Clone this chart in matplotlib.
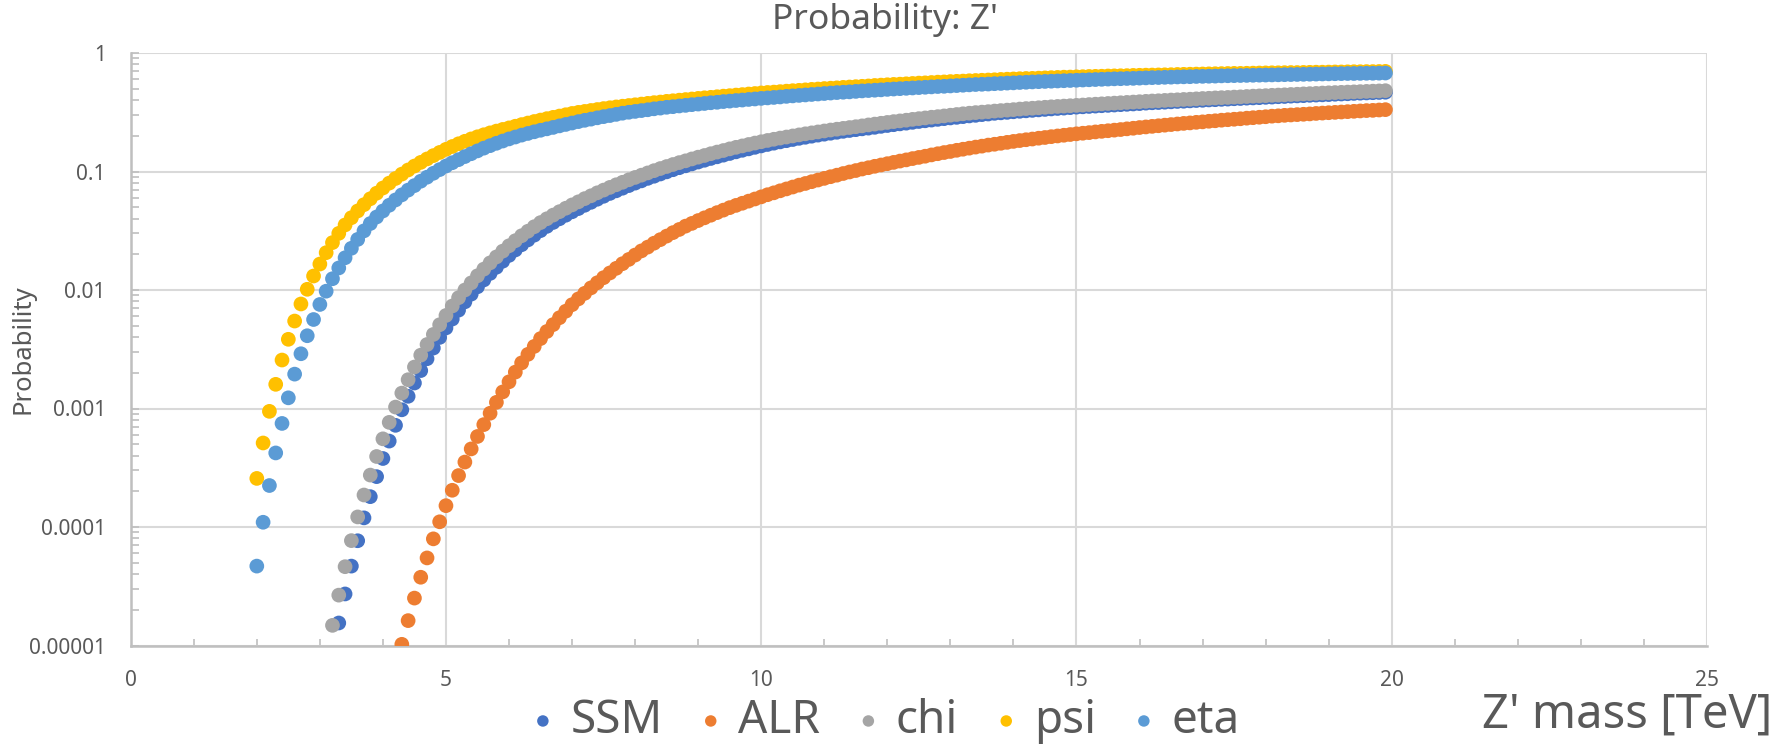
import numpy as np
import matplotlib.pyplot as plt
from matplotlib.ticker import FixedLocator, FixedFormatter, NullFormatter

# Mass grid: every series is sampled in 0.1 TeV steps up to 19.9 TeV
STEP = 0.1

# log10(probability) per Z' model, first entry at the given start mass
ssm_start = 3.3
ssm_log10 = [
    -4.810, -4.565, -4.330, -4.116, -3.923, -3.744, -3.575,
    -3.422, -3.275, -3.142, -3.011, -2.897, -2.785, -2.680, -2.580, -2.490, -2.400,
    -2.320, -2.245, -2.170, -2.100, -2.035, -1.973, -1.915, -1.860, -1.808, -1.757,
    -1.708, -1.662, -1.618, -1.577, -1.537, -1.499, -1.463, -1.430, -1.399, -1.369,
    -1.340, -1.313, -1.285, -1.260, -1.234, -1.209, -1.185, -1.163, -1.141, -1.119,
    -1.098, -1.079, -1.058, -1.040, -1.021, -1.003, -0.985, -0.968, -0.952, -0.936,
    -0.920, -0.905, -0.890, -0.876, -0.862, -0.848, -0.834, -0.821, -0.809, -0.796,
    -0.784, -0.772, -0.761, -0.750, -0.740, -0.730, -0.720, -0.711, -0.702, -0.693,
    -0.685, -0.677, -0.669, -0.661, -0.654, -0.647, -0.640, -0.634, -0.627, -0.619,
    -0.612, -0.605, -0.598, -0.592, -0.585, -0.578, -0.572, -0.566, -0.560, -0.554,
    -0.548, -0.543, -0.537, -0.531, -0.526, -0.520, -0.515, -0.509, -0.505, -0.501,
    -0.496, -0.492, -0.488, -0.484, -0.480, -0.476, -0.472, -0.468, -0.465, -0.461,
    -0.457, -0.454, -0.451, -0.448, -0.445, -0.442, -0.439, -0.436, -0.433, -0.430,
    -0.427, -0.423, -0.420, -0.418, -0.415, -0.412, -0.409, -0.407, -0.404, -0.401,
    -0.399, -0.396, -0.394, -0.391, -0.389, -0.386, -0.384, -0.381, -0.379, -0.377,
    -0.374, -0.372, -0.369, -0.367, -0.364, -0.362, -0.360, -0.357, -0.355, -0.353,
    -0.351, -0.348, -0.346, -0.344, -0.341, -0.339, -0.337, -0.335, -0.333, -0.331,
]

alr_start = 4.3
alr_log10 = [
    -4.990, -4.790, -4.600, -4.424, -4.261, -4.100, -3.956,
    -3.820, -3.690, -3.566, -3.452, -3.341, -3.236, -3.136, -3.040, -2.948, -2.860,
    -2.775, -2.693, -2.615, -2.543, -2.476, -2.410, -2.350, -2.292, -2.234, -2.179,
    -2.124, -2.075, -2.028, -1.982, -1.939, -1.896, -1.856, -1.817, -1.778, -1.742,
    -1.705, -1.670, -1.638, -1.605, -1.575, -1.545, -1.516, -1.489, -1.461, -1.438,
    -1.414, -1.391, -1.369, -1.347, -1.326, -1.305, -1.286, -1.268, -1.250, -1.232,
    -1.214, -1.196, -1.180, -1.163, -1.147, -1.131, -1.115, -1.101, -1.086, -1.072,
    -1.058, -1.044, -1.031, -1.017, -1.004, -0.992, -0.979, -0.968, -0.956, -0.945,
    -0.934, -0.923, -0.912, -0.902, -0.891, -0.881, -0.871, -0.860, -0.850, -0.840,
    -0.831, -0.821, -0.812, -0.803, -0.794, -0.786, -0.777, -0.770, -0.762, -0.754,
    -0.746, -0.739, -0.732, -0.726, -0.719, -0.713, -0.706, -0.700, -0.694, -0.688,
    -0.682, -0.677, -0.672, -0.666, -0.661, -0.656, -0.651, -0.646, -0.640, -0.635,
    -0.629, -0.624, -0.619, -0.614, -0.609, -0.604, -0.599, -0.594, -0.590, -0.585,
    -0.581, -0.576, -0.572, -0.567, -0.563, -0.559, -0.555, -0.550, -0.546, -0.542,
    -0.538, -0.533, -0.530, -0.526, -0.523, -0.520, -0.517, -0.514, -0.510, -0.507,
    -0.504, -0.501, -0.498, -0.495, -0.492, -0.489, -0.486, -0.484, -0.481, -0.478,
]

chi_start = 3.2
chi_log10 = [
    -4.830, -4.575, -4.335, -4.115, -3.915, -3.730, -3.562, -3.405,
    -3.256, -3.117, -2.988, -2.870, -2.757, -2.650, -2.550, -2.460, -2.375, -2.293,
    -2.215, -2.135, -2.065, -2.000, -1.940, -1.880, -1.824, -1.771, -1.721, -1.672,
    -1.627, -1.584, -1.542, -1.504, -1.466, -1.431, -1.399, -1.368, -1.339, -1.310,
    -1.282, -1.256, -1.229, -1.205, -1.180, -1.157, -1.134, -1.112, -1.091, -1.070,
    -1.050, -1.031, -1.012, -0.993, -0.975, -0.958, -0.941, -0.925, -0.910, -0.894,
    -0.879, -0.865, -0.850, -0.836, -0.823, -0.809, -0.796, -0.784, -0.772, -0.760,
    -0.749, -0.738, -0.728, -0.718, -0.709, -0.700, -0.691, -0.682, -0.674, -0.666,
    -0.658, -0.650, -0.643, -0.636, -0.629, -0.622, -0.615, -0.607, -0.600, -0.593,
    -0.586, -0.579, -0.573, -0.567, -0.560, -0.554, -0.548, -0.542, -0.537, -0.531,
    -0.525, -0.519, -0.513, -0.508, -0.503, -0.499, -0.495, -0.490, -0.486, -0.482,
    -0.478, -0.473, -0.469, -0.466, -0.462, -0.458, -0.454, -0.451, -0.448, -0.445,
    -0.442, -0.439, -0.435, -0.432, -0.429, -0.426, -0.423, -0.420, -0.417, -0.414,
    -0.411, -0.408, -0.405, -0.403, -0.400, -0.397, -0.395, -0.392, -0.390, -0.387,
    -0.384, -0.382, -0.379, -0.377, -0.375, -0.372, -0.370, -0.367, -0.364, -0.362,
    -0.360, -0.357, -0.355, -0.353, -0.350, -0.348, -0.345, -0.343, -0.341, -0.338,
    -0.336, -0.334, -0.332, -0.330, -0.328, -0.326, -0.324, -0.322, -0.320, -0.318,
]

psi_start = 2.0
psi_log10 = [
    -3.590, -3.291, -3.024, -2.796, -2.591, -2.416, -2.262, -2.118, -1.994, -1.882,
    -1.781, -1.685, -1.600, -1.522, -1.451, -1.390, -1.333, -1.280, -1.230, -1.183,
    -1.139, -1.098, -1.059, -1.022, -0.987, -0.954, -0.923, -0.894, -0.866, -0.839,
    -0.813, -0.789, -0.766, -0.745, -0.725, -0.707, -0.690, -0.674, -0.659, -0.645,
    -0.632, -0.618, -0.604, -0.591, -0.578, -0.566, -0.554, -0.543, -0.532, -0.521,
    -0.510, -0.501, -0.493, -0.485, -0.477, -0.469, -0.462, -0.455, -0.449, -0.443,
    -0.437, -0.431, -0.425, -0.419, -0.414, -0.408, -0.403, -0.398, -0.393, -0.388,
    -0.383, -0.378, -0.374, -0.369, -0.364, -0.360, -0.355, -0.351, -0.346, -0.342,
    -0.337, -0.333, -0.330, -0.326, -0.322, -0.318, -0.315, -0.311, -0.307, -0.304,
    -0.300, -0.297, -0.294, -0.290, -0.287, -0.284, -0.281, -0.278, -0.274, -0.271,
    -0.268, -0.265, -0.263, -0.260, -0.257, -0.254, -0.252, -0.249, -0.246, -0.244,
    -0.241, -0.239, -0.237, -0.234, -0.232, -0.230, -0.228, -0.226, -0.223, -0.221,
    -0.219, -0.217, -0.215, -0.214, -0.212, -0.210, -0.208, -0.206, -0.204, -0.203,
    -0.201, -0.200, -0.198, -0.197, -0.196, -0.194, -0.193, -0.192, -0.191, -0.189,
    -0.188, -0.187, -0.186, -0.185, -0.184, -0.183, -0.181, -0.180, -0.179, -0.178,
    -0.177, -0.176, -0.175, -0.174, -0.173, -0.172, -0.172, -0.171, -0.170, -0.169,
    -0.168, -0.167, -0.167, -0.166, -0.165, -0.165, -0.164, -0.163, -0.162, -0.162,
    -0.161, -0.160, -0.160, -0.159, -0.158, -0.158, -0.157, -0.157, -0.156, -0.155,
]

eta_start = 2.0
eta_log10 = [
    -4.330, -3.960, -3.650, -3.375, -3.126, -2.910, -2.710, -2.538, -2.386, -2.249,
    -2.122, -2.010, -1.905, -1.814, -1.728, -1.648, -1.573, -1.501, -1.439, -1.384,
    -1.333, -1.285, -1.240, -1.197, -1.157, -1.119, -1.082, -1.048, -1.015, -0.984,
    -0.954, -0.926, -0.900, -0.874, -0.850, -0.826, -0.803, -0.782, -0.762, -0.743,
    -0.725, -0.709, -0.693, -0.679, -0.665, -0.652, -0.640, -0.628, -0.615, -0.603,
    -0.591, -0.579, -0.568, -0.558, -0.547, -0.537, -0.528, -0.518, -0.508, -0.500,
    -0.493, -0.486, -0.479, -0.471, -0.465, -0.458, -0.453, -0.447, -0.442, -0.436,
    -0.431, -0.426, -0.420, -0.416, -0.410, -0.406, -0.401, -0.397, -0.392, -0.388,
    -0.383, -0.379, -0.375, -0.371, -0.366, -0.362, -0.358, -0.354, -0.350, -0.346,
    -0.342, -0.338, -0.334, -0.331, -0.328, -0.324, -0.320, -0.317, -0.314, -0.311,
    -0.307, -0.304, -0.301, -0.298, -0.295, -0.292, -0.289, -0.286, -0.283, -0.281,
    -0.278, -0.275, -0.272, -0.269, -0.266, -0.264, -0.262, -0.259, -0.257, -0.254,
    -0.252, -0.249, -0.247, -0.244, -0.242, -0.240, -0.238, -0.236, -0.234, -0.232,
    -0.230, -0.228, -0.226, -0.224, -0.222, -0.220, -0.218, -0.217, -0.215, -0.214,
    -0.212, -0.210, -0.208, -0.207, -0.205, -0.204, -0.202, -0.201, -0.200, -0.198,
    -0.197, -0.196, -0.195, -0.193, -0.192, -0.191, -0.190, -0.189, -0.188, -0.187,
    -0.186, -0.185, -0.184, -0.183, -0.182, -0.181, -0.180, -0.179, -0.178, -0.177,
    -0.176, -0.175, -0.174, -0.173, -0.173, -0.172, -0.171, -0.171, -0.170, -0.169,
]

series_names = ['SSM', 'ALR', 'chi', 'psi', 'eta']
series_starts = [ssm_start, alr_start, chi_start, psi_start, eta_start]
series_log10 = [ssm_log10, alr_log10, chi_log10, psi_log10, eta_log10]
series_colors = ['#4472C4', '#ED7D31', '#A5A5A5', '#FFC000', '#5B9BD5']

y_tick_values = [1e-5, 1e-4, 1e-3, 1e-2, 1e-1, 1]
y_tick_labels = ['0.00001', '0.0001', '0.001', '0.01', '0.1', '1']
x_tick_values = [0, 5, 10, 15, 20, 25]

TEXT = '#595959'
GRID = '#D9D9D9'
AXIS = '#BFBFBF'
FONT = ['Noto Sans', 'DejaVu Sans']
plt.rcParams['font.family'] = FONT

W, H = 1781, 749
fig = plt.figure(figsize=(W / 100, H / 100), dpi=100)
# plot area in pixels: x from 130.7 to 1707, y from 53 (p=1) to 645.5 (p=1e-5)
ax = fig.add_axes([130.7 / W, 1 - 645.5 / H, (1707 - 130.7) / W, (645.5 - 53) / H])

for name, start, vals, color in zip(series_names, series_starts, series_log10, series_colors):
    mass = np.round(start + STEP * np.arange(len(vals)), 1)
    prob = 10.0 ** np.array(vals)
    ax.scatter(mass, prob, s=112, color=color, edgecolors='none', label=name, zorder=3)

ax.set_yscale('log')
ax.set_xlim(0, 25)
ax.set_ylim(1e-5, 1)

ax.yaxis.set_major_locator(FixedLocator(y_tick_values))
ax.yaxis.set_major_formatter(FixedFormatter(y_tick_labels))
minor_y = [m * 10.0 ** e for e in range(-5, 0) for m in range(2, 10)]
ax.yaxis.set_minor_locator(FixedLocator(minor_y))
ax.yaxis.set_minor_formatter(NullFormatter())
ax.xaxis.set_major_locator(FixedLocator(x_tick_values))
ax.xaxis.set_minor_locator(FixedLocator(list(range(1, 25))))

ax.grid(True, which='major', color=GRID, linewidth=1.5, zorder=0)
ax.set_axisbelow(True)
for side in ['top', 'right']:
    ax.spines[side].set_visible(False)
for side in ['left', 'bottom']:
    ax.spines[side].set_color(AXIS)
    ax.spines[side].set_linewidth(1.8)

ax.tick_params(axis='y', which='both', direction='in', length=6, width=1.2, color=AXIS,
               labelsize=15, labelcolor=TEXT, pad=18)
ax.tick_params(axis='x', which='major', direction='in', length=0, labelsize=15,
               labelcolor=TEXT, pad=18)
ax.tick_params(axis='x', which='minor', direction='in', length=5, width=1.2, color=AXIS)

ax.set_ylabel('Probability', fontsize=18.5, color=TEXT, va='center')
ax.yaxis.set_label_coords((23 - 130.7) / 1576.3, 0.50)

fig.text(885 / W, 1 - 20 / H, "Probability: Z'", ha='center', va='center',
         fontsize=25.5, color=TEXT)
fig.text(1772 / W, 1 - 728 / H, "Z' mass [TeV]", ha='right', va='baseline',
         fontsize=34, color=TEXT)

fig.legend(loc='center left', bbox_to_anchor=(536 / W, 1 - 721 / H), ncol=5,
           frameon=False, borderpad=0, borderaxespad=0, markerscale=0.78,
           handlelength=0.3, handletextpad=0.45, columnspacing=0.9,
           fontsize=33, labelcolor=TEXT)

fig.savefig('out.png', dpi=100)
